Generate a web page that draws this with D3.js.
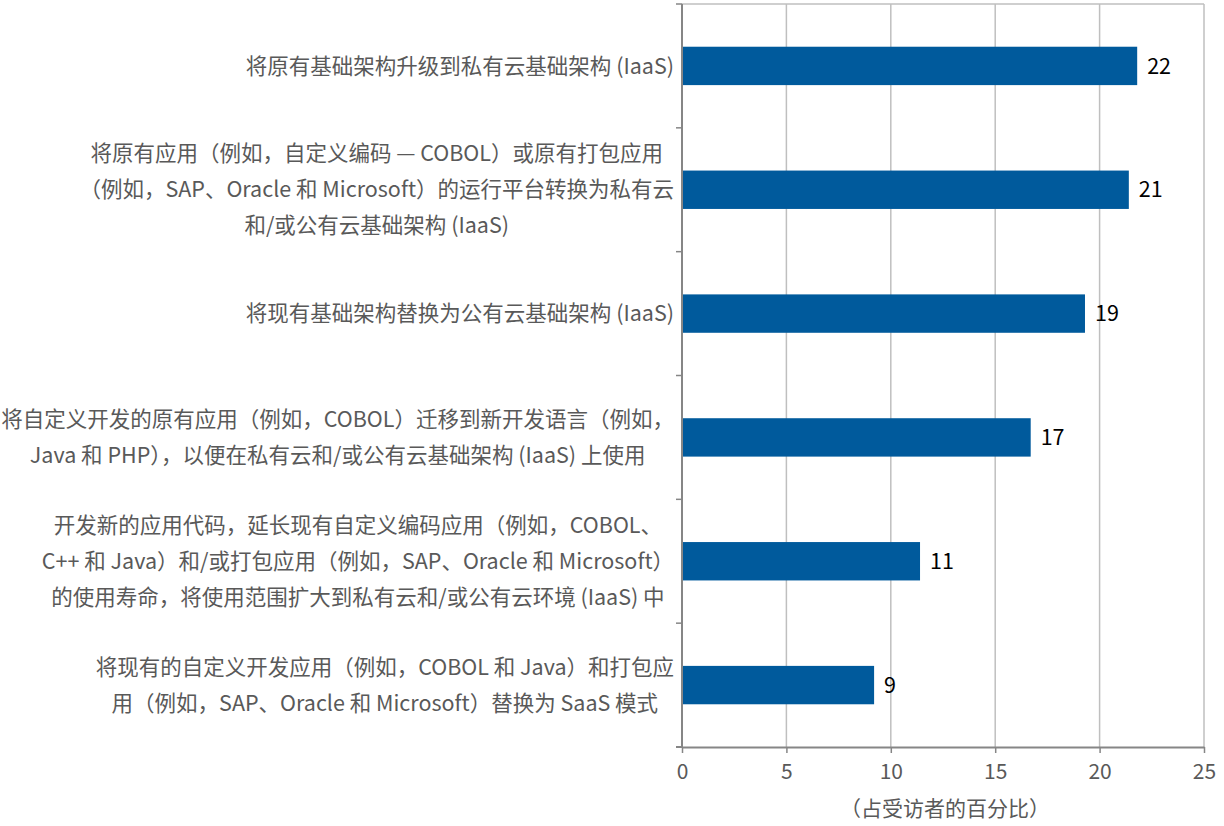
<!DOCTYPE html>
<html>
<head>
<meta charset="utf-8">
<script src="https://cdn.jsdelivr.net/npm/d3@7"></script>
<style>
  body { margin: 0; background: #fff; }
  svg text { font-family: "Noto Sans CJK SC", "Noto Sans", sans-serif; }
</style>
</head>
<body>
<div id="chart"></div>
<script>
// categories, top to bottom (each entry = wrapped lines)
const categories = [
    ["将原有基础架构升级到私有云基础架构 (IaaS)"],
    ["将原有应用（例如，自定义编码 — COBOL）或原有打包应用",
     "（例如，SAP、Oracle 和 Microsoft）的运行平台转换为私有云",
     "和/或公有云基础架构 (IaaS)"],
    ["将现有基础架构替换为公有云基础架构 (IaaS)"],
    ["将自定义开发的原有应用（例如，COBOL）迁移到新开发语言（例如，",
     "Java 和 PHP），以便在私有云和/或公有云基础架构 (IaaS) 上使用"],
    ["开发新的应用代码，延长现有自定义编码应用（例如，COBOL、",
     "C++ 和 Java）和/或打包应用（例如，SAP、Oracle 和 Microsoft）",
     "的使用寿命，将使用范围扩大到私有云和/或公有云环境 (IaaS) 中"],
    ["将现有的自定义开发应用（例如，COBOL 和 Java）和打包应",
     "用（例如，SAP、Oracle 和 Microsoft）替换为 SaaS 模式"]
];
const values = [21.8, 21.4, 19.3, 16.7, 11.4, 9.2];
const xTicks = [0, 5, 10, 15, 20, 25];
const xTitle = "（占受访者的百分比）";

const data = categories.map((c, i) => ({id: i, lines: c, value: values[i]}));

const W = 1224, H = 826;
const margin = {top: 4, right: 20, bottom: 79, left: 682};
const width = W - margin.left - margin.right;
const height = H - margin.top - margin.bottom;

const svg = d3.select("#chart")
    .append("svg")
    .attr("width", W)
    .attr("height", H);

const g = svg.append("g")
    .attr("transform", `translate(${margin.left},${margin.top})`);

const x = d3.scaleLinear().domain([0, 25]).range([0, width]);
const y = d3.scaleBand().domain(data.map(d => d.id)).range([0, height]).paddingInner(0.69).paddingOuter(0.345);

// gridlines
g.selectAll(".grid")
    .data(xTicks.slice(1))
    .enter()
    .append("line")
    .attr("x1", d => x(d)).attr("x2", d => x(d))
    .attr("y1", 0).attr("y2", height)
    .attr("stroke", "#bfbfbf")
    .attr("stroke-width", 1.5);

// top border
g.append("line")
    .attr("x1", 0).attr("x2", width)
    .attr("y1", 0).attr("y2", 0)
    .attr("stroke", "#bfbfbf")
    .attr("stroke-width", 1.5);

// bars
g.selectAll(".bar")
    .data(data)
    .enter()
    .append("rect")
    .attr("class", "bar")
    .attr("x", 0)
    .attr("y", d => y(d.id))
    .attr("width", d => x(d.value))
    .attr("height", y.bandwidth())
    .attr("fill", "#005a9c");

// value labels
g.selectAll(".val")
    .data(data)
    .enter()
    .append("text")
    .attr("x", d => x(d.value) + 10)
    .attr("y", d => y(d.id) + y.bandwidth() / 2)
    .attr("dy", "0.36em")
    .attr("font-size", 21.5)
    .attr("fill", "#000")
    .text(d => Math.round(d.value));

// y axis: boundary ticks
const bandStep = height / data.length;
const yAxis = g.append("g");
yAxis.append("line")
    .attr("x1", 0).attr("x2", 0)
    .attr("y1", 0).attr("y2", height)
    .attr("stroke", "#868686").attr("stroke-width", 2);
yAxis.selectAll(".ytick")
    .data(d3.range(data.length + 1))
    .enter()
    .append("line")
    .attr("x1", -6).attr("x2", 0)
    .attr("y1", i => i * bandStep).attr("y2", i => i * bandStep)
    .attr("stroke", "#868686").attr("stroke-width", 1.5);

// x axis
const xAxis = g.append("g")
    .attr("transform", `translate(0,${height})`)
    .call(d3.axisBottom(x).tickValues(xTicks).tickSize(6).tickSizeOuter(0).tickPadding(11));
xAxis.select(".domain").attr("stroke", "#868686").attr("stroke-width", 2);
xAxis.selectAll(".tick line").attr("stroke", "#868686").attr("stroke-width", 1.5);
xAxis.selectAll(".tick text")
    .attr("font-size", 21)
    .attr("fill", "#595959")
    .style("font-family", "\"Noto Sans CJK SC\", sans-serif");
xAxis.append("line")
    .attr("x1", -6).attr("x2", 0).attr("y1", 0).attr("y2", 0)
    .attr("stroke", "#868686").attr("stroke-width", 2);

// axis title
g.append("text")
    .attr("x", width / 2 + 2)
    .attr("y", height + 69)
    .attr("text-anchor", "middle")
    .attr("font-size", 21)
    .attr("fill", "#595959")
    .text(xTitle);

// category labels: centered lines in a right-aligned block
const lineH = 36;
const labelRight = -8;
data.forEach(d => {
    const cy = y(d.id) + y.bandwidth() / 2;
    const grp = g.append("g");
    const texts = d.lines.map((ln, k) => grp.append("text")
        .attr("y", cy + (k - (d.lines.length - 1) / 2) * lineH)
        .attr("dy", "0.36em")
        .attr("text-anchor", "middle")
        .attr("font-size", 21.5)
        .attr("fill", "#595959")
        .text(ln));
    const maxW = d3.max(texts, t => t.node().getComputedTextLength());
    texts.forEach(t => t.attr("x", labelRight - maxW / 2));
});
</script>
</body>
</html>
